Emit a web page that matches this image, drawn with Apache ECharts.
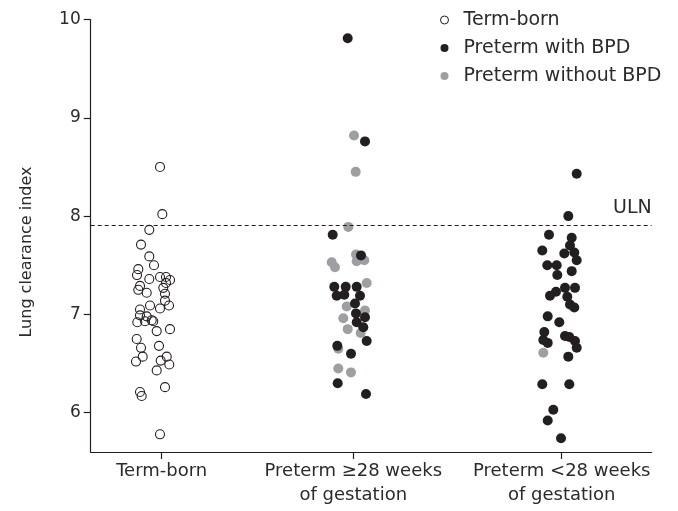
<!DOCTYPE html>
<html>
<head>
<meta charset="utf-8">
<script src="https://cdn.jsdelivr.net/npm/echarts@6/dist/echarts.min.js"></script>
<style>html,body{margin:0;padding:0;background:#fff}#c{width:678px;height:511px}</style>
</head>
<body>
<div id="c"></div>
<script>
// ---- data ----
var groupNames = ['Term-born', 'Preterm \u226528 weeks\nof gestation', 'Preterm <28 weeks\nof gestation'];
var groupPositions = [71, 262.6, 471];      // x-axis units of each group centre
var yTicks = [6, 7, 8, 9, 10];
var ulnValue = 7.91;

// Term-born (open circles)
var termBornLCI = [8.50, 8.02, 7.86, 7.71, 7.59, 7.50, 7.46, 7.40, 7.36, 7.38, 7.38, 7.35, 7.32, 7.27, 7.29, 7.25, 7.22, 7.21, 7.14, 7.09, 7.09, 7.06, 7.05, 6.99, 6.98, 6.94, 6.93, 6.93, 6.92, 6.85, 6.83, 6.75, 6.66, 6.68, 6.57, 6.52, 6.57, 6.53, 6.49, 6.43, 6.26, 6.21, 6.17, 5.78];
var termBornJitter = [-1.7, 0.6, -12.4, -20.7, -12.4, -7.7, -23.4, -24.7, -12.4, -1.7, 4.3, 8.3, 4.3, 1.6, -21.7, -23.4, -15, 3.3, 3.3, 7.3, -11.7, -1.7, -21.7, -21.7, -15, -10, -8.4, -16.7, -24.4, 8.3, -5, -25, -20.7, -2.7, -19, -25.7, 5, -1, 7.6, -5, 3.3, -21.7, -20, -1.7];

// Preterm >=28 weeks, with BPD (black)
var bpd28plusLCI = [9.81, 8.76, 7.81, 7.60, 7.28, 7.28, 7.28, 7.19, 7.20, 7.19, 7.11, 7.01, 6.97, 6.92, 6.87, 6.73, 6.68, 6.60, 6.30, 6.19];
var bpd28plusJitter = [-5.6, 11.7, -20.6, 7.7, -19, -7.6, 3.4, -16.6, -9, 6.7, 1.7, 2.7, 11.7, 3.4, 10, 13.4, -16, -2.3, -15.6, 12.7];
// Preterm >=28 weeks, without BPD (grey)
var noBpd28plusLCI = [8.82, 8.45, 7.89, 7.61, 7.54, 7.55, 7.53, 7.48, 7.32, 7.08, 7.04, 6.96, 6.85, 6.81, 6.65, 6.45, 6.41];
var noBpd28plusJitter = [0.7, 2.4, -5, 2.7, 3.4, 11, -21.6, -18.3, 13.4, -6.6, 11.7, -10, -5.6, 7.4, -15, -15, -2.3];

// Preterm <28 weeks, with BPD (black)
var bpdUnder28LCI = [8.43, 8.00, 7.81, 7.78, 7.70, 7.65, 7.62, 7.63, 7.55, 7.50, 7.50, 7.44, 7.40, 7.27, 7.27, 7.23, 7.19, 7.18, 7.10, 7.07, 6.98, 6.92, 6.82, 6.78, 6.77, 6.74, 6.71, 6.73, 6.66, 6.57, 6.29, 6.29, 6.03, 5.92, 5.74];
var bpdUnder28Jitter = [15, 6.6, -12.7, 10, 8.3, -19.4, 2.6, 12.6, 15, -14.4, -5, 10, -4.4, 3.3, 13.3, -5.7, -11.7, 5.6, 8.3, 12.6, -14, -2.4, -17.4, 3.3, 7.6, -18.4, -14, 13.3, 15, 6.6, -19.4, 7.6, -8.4, -14, -0.7];
// Preterm <28 weeks, without BPD (grey)
var noBpdUnder28LCI = [6.61];
var noBpdUnder28Jitter = [-18.4];

function pts(group, values, jitter) {
  return values.map(function (v, i) { return [groupPositions[group] + jitter[i], v]; });
}

var ink = '#231f20';
var grey = '#9d9fa2';
var txt = '#2b2b2b';
var font = 'DejaVu Sans';

var chart = echarts.init(document.getElementById('c'), null, {renderer: 'canvas'});
chart.setOption({
  animation: false,
  backgroundColor: '#fff',
  grid: {left: 90.7, right: 26.3, top: 19.5, bottom: 59, containLabel: false},
  xAxis: {
    type: 'value', min: 0, max: 561,
    axisLine: {show: true, lineStyle: {color: ink, width: 1.2}},
    axisTick: {show: true, customValues: groupPositions, length: 7, lineStyle: {color: ink, width: 1.2}},
    axisLabel: {
      show: true, customValues: groupPositions, margin: 7,
      fontFamily: font, fontSize: 18, color: txt, lineHeight: 24,
      formatter: function (v) {
        for (var i = 0; i < groupPositions.length; i++) if (Math.abs(groupPositions[i] - v) < 0.01) return groupNames[i];
        return '';
      }
    },
    splitLine: {show: false}
  },
  yAxis: {
    type: 'value', min: 5.6, max: 10,
    axisLine: {show: true, lineStyle: {color: ink, width: 1.2}},
    axisTick: {show: true, customValues: yTicks, length: 7, lineStyle: {color: ink, width: 1.2}},
    axisLabel: {show: true, customValues: yTicks, margin: 10, fontFamily: font, fontSize: 17, color: txt},
    splitLine: {show: false}
  },
  legend: {
    orient: 'vertical', left: 435, top: 5,
    itemWidth: 8, itemHeight: 8, itemGap: 8, icon: 'circle',
    textStyle: {fontFamily: font, fontSize: 19, color: txt, lineHeight: 20, padding: [0, 0, 0, 10]},
    data: [
      {name: 'Term-born', itemStyle: {color: '#fff', borderColor: ink, borderWidth: 1, opacity: 1}},
      {name: 'Preterm with BPD', itemStyle: {color: ink, opacity: 1}},
      {name: 'Preterm without BPD', itemStyle: {color: grey, opacity: 1}}
    ]
  },
  graphic: [{
    type: 'text', x: 27, y: 252, rotation: Math.PI / 2,
    style: {text: 'Lung clearance index', fontFamily: font, fontSize: 16, fill: txt, align: 'center', verticalAlign: 'middle'}
  }],
  series: [
    {
      name: 'Term-born', type: 'scatter', symbol: 'circle', symbolSize: 9,
      itemStyle: {color: 'rgba(255,255,255,0)', borderColor: ink, borderWidth: 1.1, opacity: 1},
      data: pts(0, termBornLCI, termBornJitter),
      markLine: {
        silent: true, symbol: ['none', 'none'],
        lineStyle: {type: [4, 3], color: ink, width: 1},
        label: {show: true, position: 'insideEndTop', formatter: 'ULN', fontFamily: font, fontSize: 19, color: txt, distance: [0, 7]},
        data: [{yAxis: ulnValue}]
      }
    },
    {
      name: 'Preterm without BPD', type: 'scatter', symbol: 'circle', symbolSize: 10,
      itemStyle: {color: grey, opacity: 1},
      data: pts(1, noBpd28plusLCI, noBpd28plusJitter).concat(pts(2, noBpdUnder28LCI, noBpdUnder28Jitter))
    },
    {
      name: 'Preterm with BPD', type: 'scatter', symbol: 'circle', symbolSize: 10,
      itemStyle: {color: ink, opacity: 1},
      data: pts(1, bpd28plusLCI, bpd28plusJitter).concat(pts(2, bpdUnder28LCI, bpdUnder28Jitter))
    }
  ]
});
</script>
</body>
</html>
